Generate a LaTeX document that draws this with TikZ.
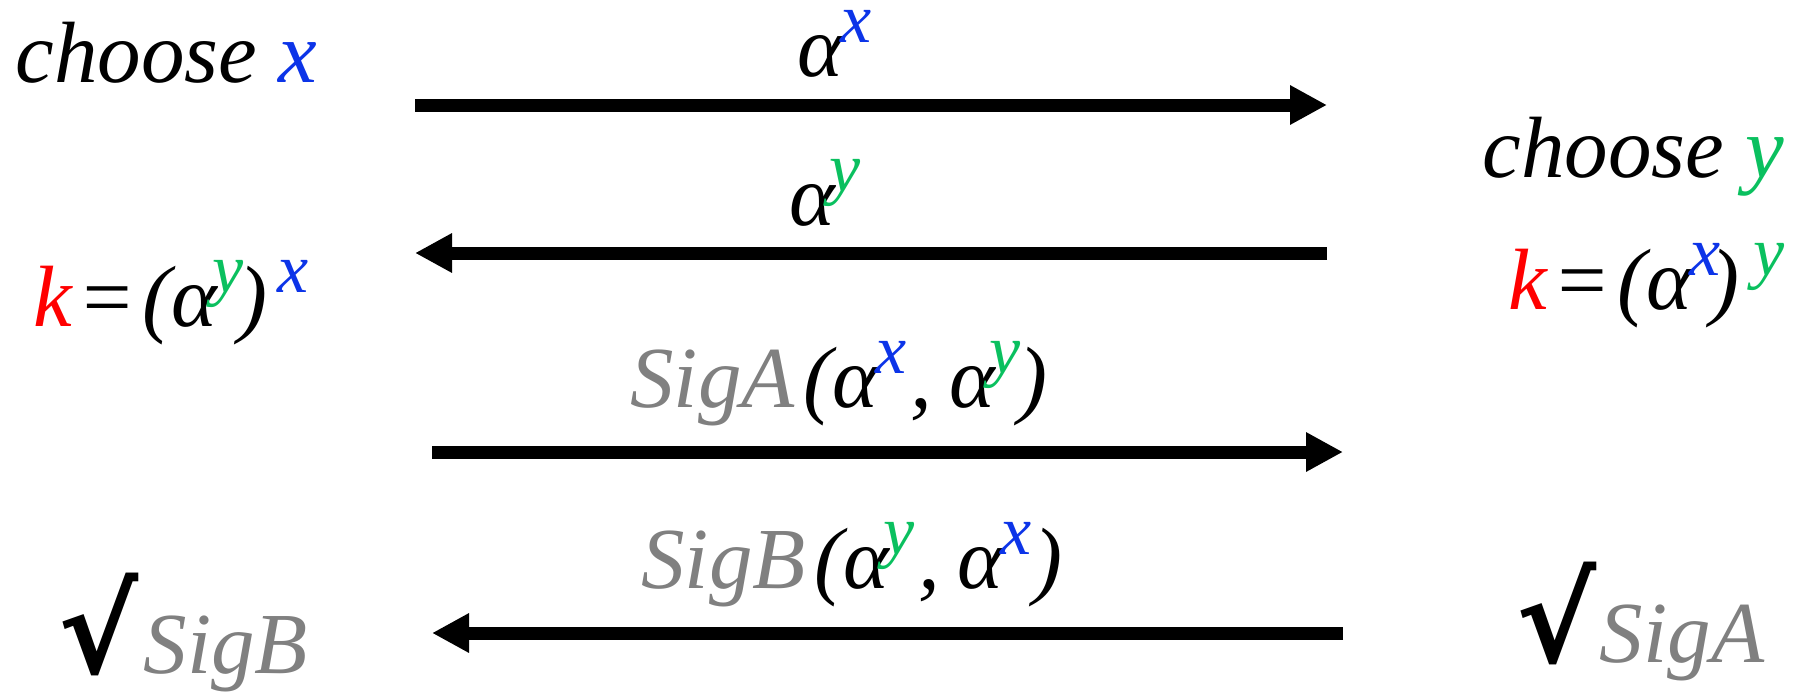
\documentclass[tikz,border=0pt]{standalone}
\usepackage{fontspec}
\newfontfamily\tnr{Liberation Serif}
\newfontfamily\chkfont{DejaVu Sans}
\usepackage{xcolor}
\usetikzlibrary{arrows.meta}
\definecolor{keyblue}{RGB}{12,52,232}
\definecolor{keygreen}{RGB}{10,192,95}
\definecolor{keyred}{RGB}{255,0,0}
\definecolor{siggray}{RGB}{128,128,128}
% exponent set small and high, pulled onto the base
\newcommand{\expo}[3][-0.03em]{\kern#1\raisebox{0.385em}{\fontsize{35pt}{35pt}\selectfont\color{#2}#3}}
\newcommand{\gx}{α\expo{keyblue}{x}}
\newcommand{\gy}{α\expo[-0.06em]{keygreen}{y}}
\newcommand{\chk}{{\chkfont\fontsize{60pt}{60pt}\selectfont\bfseries\itshape √}}
\tikzset{
  txt/.style={inner sep=0pt, anchor=base west, font=\tnr\fontsize{43.5pt}{52pt}\selectfont\itshape},
  msg/.style={-{Triangle[length=18.5pt,width=18.5pt]}, line width=6.5pt, draw=black}
}
\begin{document}
\begin{tikzpicture}[x=0.5pt,y=-0.5pt]
  \useasboundingbox (0,0) rectangle (1803,691);
  % the two parties
  \node[txt] (chooseX) at (15,82) {choose \textcolor{keyblue}{x}};
  \node[txt] (chooseY) at (1482,177) {choose \textcolor{keygreen}{y}};
  \node[txt] (keyA) at (33,326) {\textcolor{keyred}{k}\kern0.06em=\kern0.08em(\gy\kern-0.06em)\expo[0.12em]{keyblue}{x}};
  \node[txt] (keyB) at (1508,309) {\textcolor{keyred}{k}\kern0.06em=\kern0.08em(\gx\kern-0.12em)\expo[0.16em]{keygreen}{y}};
  \node[txt] (verB) at (58,673) {\chk\kern0.06em\textcolor{siggray}{SigB}};
  \node[txt] (verA) at (1516,662) {\chk\kern0.04em\textcolor{siggray}{SigA}};

  % messages
  \coordinate (m1a) at (415,105);  \coordinate (m1b) at (1327,105);
  \coordinate (m2a) at (1327,253); \coordinate (m2b) at (415,253);
  \coordinate (m3a) at (432,452);  \coordinate (m3b) at (1343,452);
  \coordinate (m4a) at (1343,633); \coordinate (m4b) at (432,633);
  \draw[msg] (m1a) -- (m1b);
  \draw[msg] (m2a) -- (m2b);
  \draw[msg] (m3a) -- (m3b);
  \draw[msg] (m4a) -- (m4b);
  \node[txt] (msgX) at (797,76) {\gx};
  \node[txt] (msgY) at (789,225) {\gy};
  \node[txt] (msgSA) at (630,407) {\textcolor{siggray}{SigA}\kern0.1em(\gx\kern0.04em,\kern0.2em\gy\kern-0.02em)};
  \node[txt] (msgSB) at (641,588) {\textcolor{siggray}{SigB}\kern0.1em(\gy\kern0.04em,\kern0.2em\gx\kern0.02em)};
\end{tikzpicture}
\end{document}
